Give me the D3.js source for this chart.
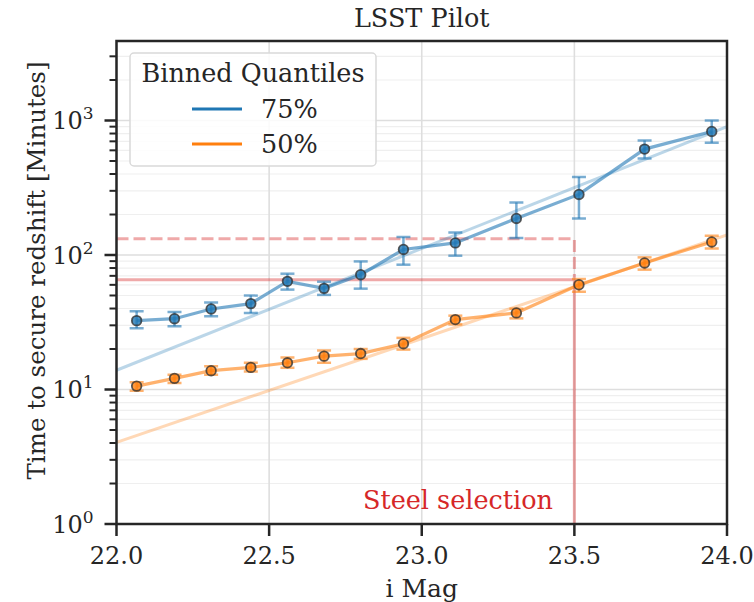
<!DOCTYPE html>
<html>
<head>
<meta charset="utf-8">
<script src="https://cdn.jsdelivr.net/npm/d3@7"></script>
<style>
  body { margin: 0; background: #fff; }
  svg text { font-family: "DejaVu Serif", serif; fill: #262626; }
</style>
</head>
<body>
<div id="chart"></div>
<script>
// binned magnitudes
const magBlue = [22.066, 22.19, 22.31, 22.44, 22.56, 22.68, 22.80, 22.94, 23.11, 23.31, 23.515, 23.73, 23.95];
const magOrange = magBlue;

// 75% quantile
const q75 = [32.5, 33.6, 39.7, 43.5, 63.7, 56.5, 71.4, 110, 123, 187, 282, 613, 829];
const q75Lo = [28.5, 29.5, 35, 37.1, 55.3, 50.5, 56.2, 84.7, 98.8, 134, 187, 522, 683];
const q75Hi = [38.1, 37.7, 44.4, 49.9, 72.6, 63.3, 89.6, 136, 147, 246, 380, 710, 1000];

// 50% quantile
const q50 = [10.6, 12.1, 13.8, 14.6, 15.8, 17.7, 18.5, 21.9, 33.1, 37.1, 60.1, 87.3, 125];
const q50Lo = [9.8, 11.2, 12.9, 13.6, 14.5, 15.8, 16.9, 19.8, 30.5, 33.8, 53.3, 77.8, 112];
const q50Hi = [11.3, 12.9, 14.9, 15.8, 17.3, 19.5, 20, 24.2, 35.4, 39.9, 66.3, 96, 139];

// power-law fits (end points)
const fitMag = [22.0, 24.0];
const fit75 = [13.9, 900];
const fit50 = [4.05, 141];

// selection thresholds
const selMag = 23.5;
const selSolid = 65.6;
const selDashed = 132;

const xTicks = [22.0, 22.5, 23.0, 23.5, 24.0];
const yTicks = [1, 10, 100, 1000];
const yExp = ["0", "1", "2", "3"];

const width = 754, height = 602;
const margin = { top: 41, right: 27, bottom: 78, left: 116.5 };

const svg = d3.select("#chart").append("svg")
  .attr("width", width).attr("height", height);

const x = d3.scaleLinear().domain([22, 24]).range([margin.left, width - margin.right]);
const y = d3.scaleLog().domain([1, 3900]).range([height - margin.bottom, margin.top]);

const x0 = x.range()[0], x1 = x.range()[1];
const y0 = y.range()[0], y1 = y.range()[1];

svg.append("defs").append("clipPath").attr("id", "clip")
  .append("rect").attr("x", x0).attr("y", y1).attr("width", x1 - x0).attr("height", y0 - y1);

// minor ticks values
const minor = [];
for (let d = 1; d <= 1000; d *= 10) {
  for (let k = 2; k <= 9; k++) if (d * k < 3900) minor.push(d * k);
}

// grid
const grid = svg.append("g");
grid.selectAll(".ymin").data(minor).join("line")
  .attr("x1", x0).attr("x2", x1)
  .attr("y1", d => y(d)).attr("y2", d => y(d))
  .attr("stroke", "#efefef").attr("stroke-width", 1.2);
grid.selectAll(".ymaj").data(yTicks).join("line")
  .attr("x1", x0).attr("x2", x1)
  .attr("y1", d => y(d)).attr("y2", d => y(d))
  .attr("stroke", "#dedede").attr("stroke-width", 1.6);
grid.selectAll(".xmaj").data(xTicks).join("line")
  .attr("x1", d => x(d)).attr("x2", d => x(d))
  .attr("y1", y0).attr("y2", y1)
  .attr("stroke", "#dedede").attr("stroke-width", 1.6);

const plot = svg.append("g").attr("clip-path", "url(#clip)");

// threshold lines
const red = "#d62728";
plot.append("path")
  .attr("d", `M${x0},${y(selSolid)}H${x(selMag)}V${y0}`)
  .attr("fill", "none")
  .attr("stroke", red).attr("stroke-opacity", 0.4).attr("stroke-width", 3);
plot.append("path")
  .attr("d", `M${x0},${y(selDashed)}H${x(selMag)}V${y(selSolid) - 2}`)
  .attr("fill", "none")
  .attr("stroke", red).attr("stroke-opacity", 0.4).attr("stroke-width", 3)
  .attr("stroke-dasharray", "12,5");

// fits
const line = d3.line().x(d => x(d[0])).y(d => y(d[1]));
const series = [
  { color: "#1f77b4", xs: magBlue, v: q75, lo: q75Lo, hi: q75Hi, fit: fit75 },
  { color: "#ff7f0e", xs: magOrange, v: q50, lo: q50Lo, hi: q50Hi, fit: fit50 }
];

series.forEach(s => {
  plot.append("path")
    .attr("d", line(d3.zip(fitMag, s.fit)))
    .attr("fill", "none").attr("stroke", s.color)
    .attr("stroke-opacity", 0.3).attr("stroke-width", 3);
});

series.forEach(s => {
  const g = plot.append("g");
  const pts = d3.zip(s.xs, s.v);
  g.append("path").attr("d", line(pts))
    .attr("fill", "none").attr("stroke", s.color)
    .attr("stroke-opacity", 0.6).attr("stroke-width", 3.2);
  const eb = g.selectAll(".eb").data(s.xs.map((m, i) => ({ m, lo: s.lo[i], hi: s.hi[i] }))).join("g")
    .attr("stroke", s.color).attr("stroke-opacity", 0.6).attr("stroke-width", 2.5);
  eb.append("line").attr("x1", d => x(d.m)).attr("x2", d => x(d.m))
    .attr("y1", d => y(d.lo)).attr("y2", d => y(d.hi));
  eb.append("line").attr("x1", d => x(d.m) - 7).attr("x2", d => x(d.m) + 7)
    .attr("y1", d => y(d.lo)).attr("y2", d => y(d.lo));
  eb.append("line").attr("x1", d => x(d.m) - 7).attr("x2", d => x(d.m) + 7)
    .attr("y1", d => y(d.hi)).attr("y2", d => y(d.hi));
  g.selectAll("circle").data(pts).join("circle")
    .attr("cx", d => x(d[0])).attr("cy", d => y(d[1])).attr("r", 4.8)
    .attr("fill", s.color).attr("fill-opacity", 0.8)
    .attr("stroke", "#333").attr("stroke-opacity", 0.8).attr("stroke-width", 1.8);
});

// annotation
svg.append("text")
  .attr("x", 553).attr("y", 509)
  .attr("text-anchor", "end")
  .attr("font-size", 25.5)
  .style("fill", red)
  .text("Steel selection");

// axes
const axisG = svg.append("g").attr("stroke", "#262626");
axisG.append("rect")
  .attr("x", x0).attr("y", y1).attr("width", x1 - x0).attr("height", y0 - y1)
  .attr("fill", "none").attr("stroke-width", 2.5);

axisG.selectAll(".xt").data(xTicks).join("line")
  .attr("x1", d => x(d)).attr("x2", d => x(d))
  .attr("y1", y0).attr("y2", y0 + 12).attr("stroke-width", 2.5);
svg.selectAll(".xl").data(xTicks).join("text")
  .attr("x", d => x(d)).attr("y", y0 + 40)
  .attr("text-anchor", "middle").attr("font-size", 24)
  .text(d => d.toFixed(1));

axisG.selectAll(".yt").data(yTicks).join("line")
  .attr("x1", x0 - 12).attr("x2", x0)
  .attr("y1", d => y(d)).attr("y2", d => y(d)).attr("stroke-width", 2.5);
axisG.selectAll(".ymt").data(minor).join("line")
  .attr("x1", x0 - 7).attr("x2", x0)
  .attr("y1", d => y(d)).attr("y2", d => y(d)).attr("stroke-width", 2);

const yl = svg.selectAll(".yl").data(yTicks).join("text")
  .attr("x", x0 - 23).attr("y", d => y(d) + 9)
  .attr("text-anchor", "end").attr("font-size", 24);
yl.append("tspan").text("10");
yl.append("tspan").attr("dy", -10).attr("font-size", 17).text((d, i) => yExp[i]);

// labels
svg.append("text").attr("x", (x0 + x1) / 2).attr("y", 27)
  .attr("text-anchor", "middle").attr("font-size", 25.5).text("LSST Pilot");
svg.append("text").attr("x", (x0 + x1) / 2).attr("y", 597)
  .attr("text-anchor", "middle").attr("font-size", 25).text("i Mag");
svg.append("text")
  .attr("transform", `translate(45,${(y0 + y1) / 2 - 12}) rotate(-90)`)
  .attr("text-anchor", "middle").attr("font-size", 24.5)
  .text("Time to secure redshift [Minutes]");

// legend
const lg = svg.append("g");
lg.append("rect").attr("x", 130).attr("y", 53).attr("width", 246).attr("height", 113)
  .attr("rx", 4).attr("fill", "#fff").attr("fill-opacity", 0.85)
  .attr("stroke", "#d9d9d9").attr("stroke-width", 1.5);
lg.append("text").attr("x", 253).attr("y", 82)
  .attr("text-anchor", "middle").attr("font-size", 25.5).text("Binned Quantiles");
const labels = ["75%", "50%"];
series.forEach((s, i) => {
  const yy = 109 + i * 35;
  lg.append("line").attr("x1", 192).attr("x2", 242).attr("y1", yy).attr("y2", yy)
    .attr("stroke", s.color).attr("stroke-width", 3);
  lg.append("text").attr("x", 261).attr("y", yy + 9).attr("font-size", 25.5).text(labels[i]);
});
</script>
</body>
</html>
